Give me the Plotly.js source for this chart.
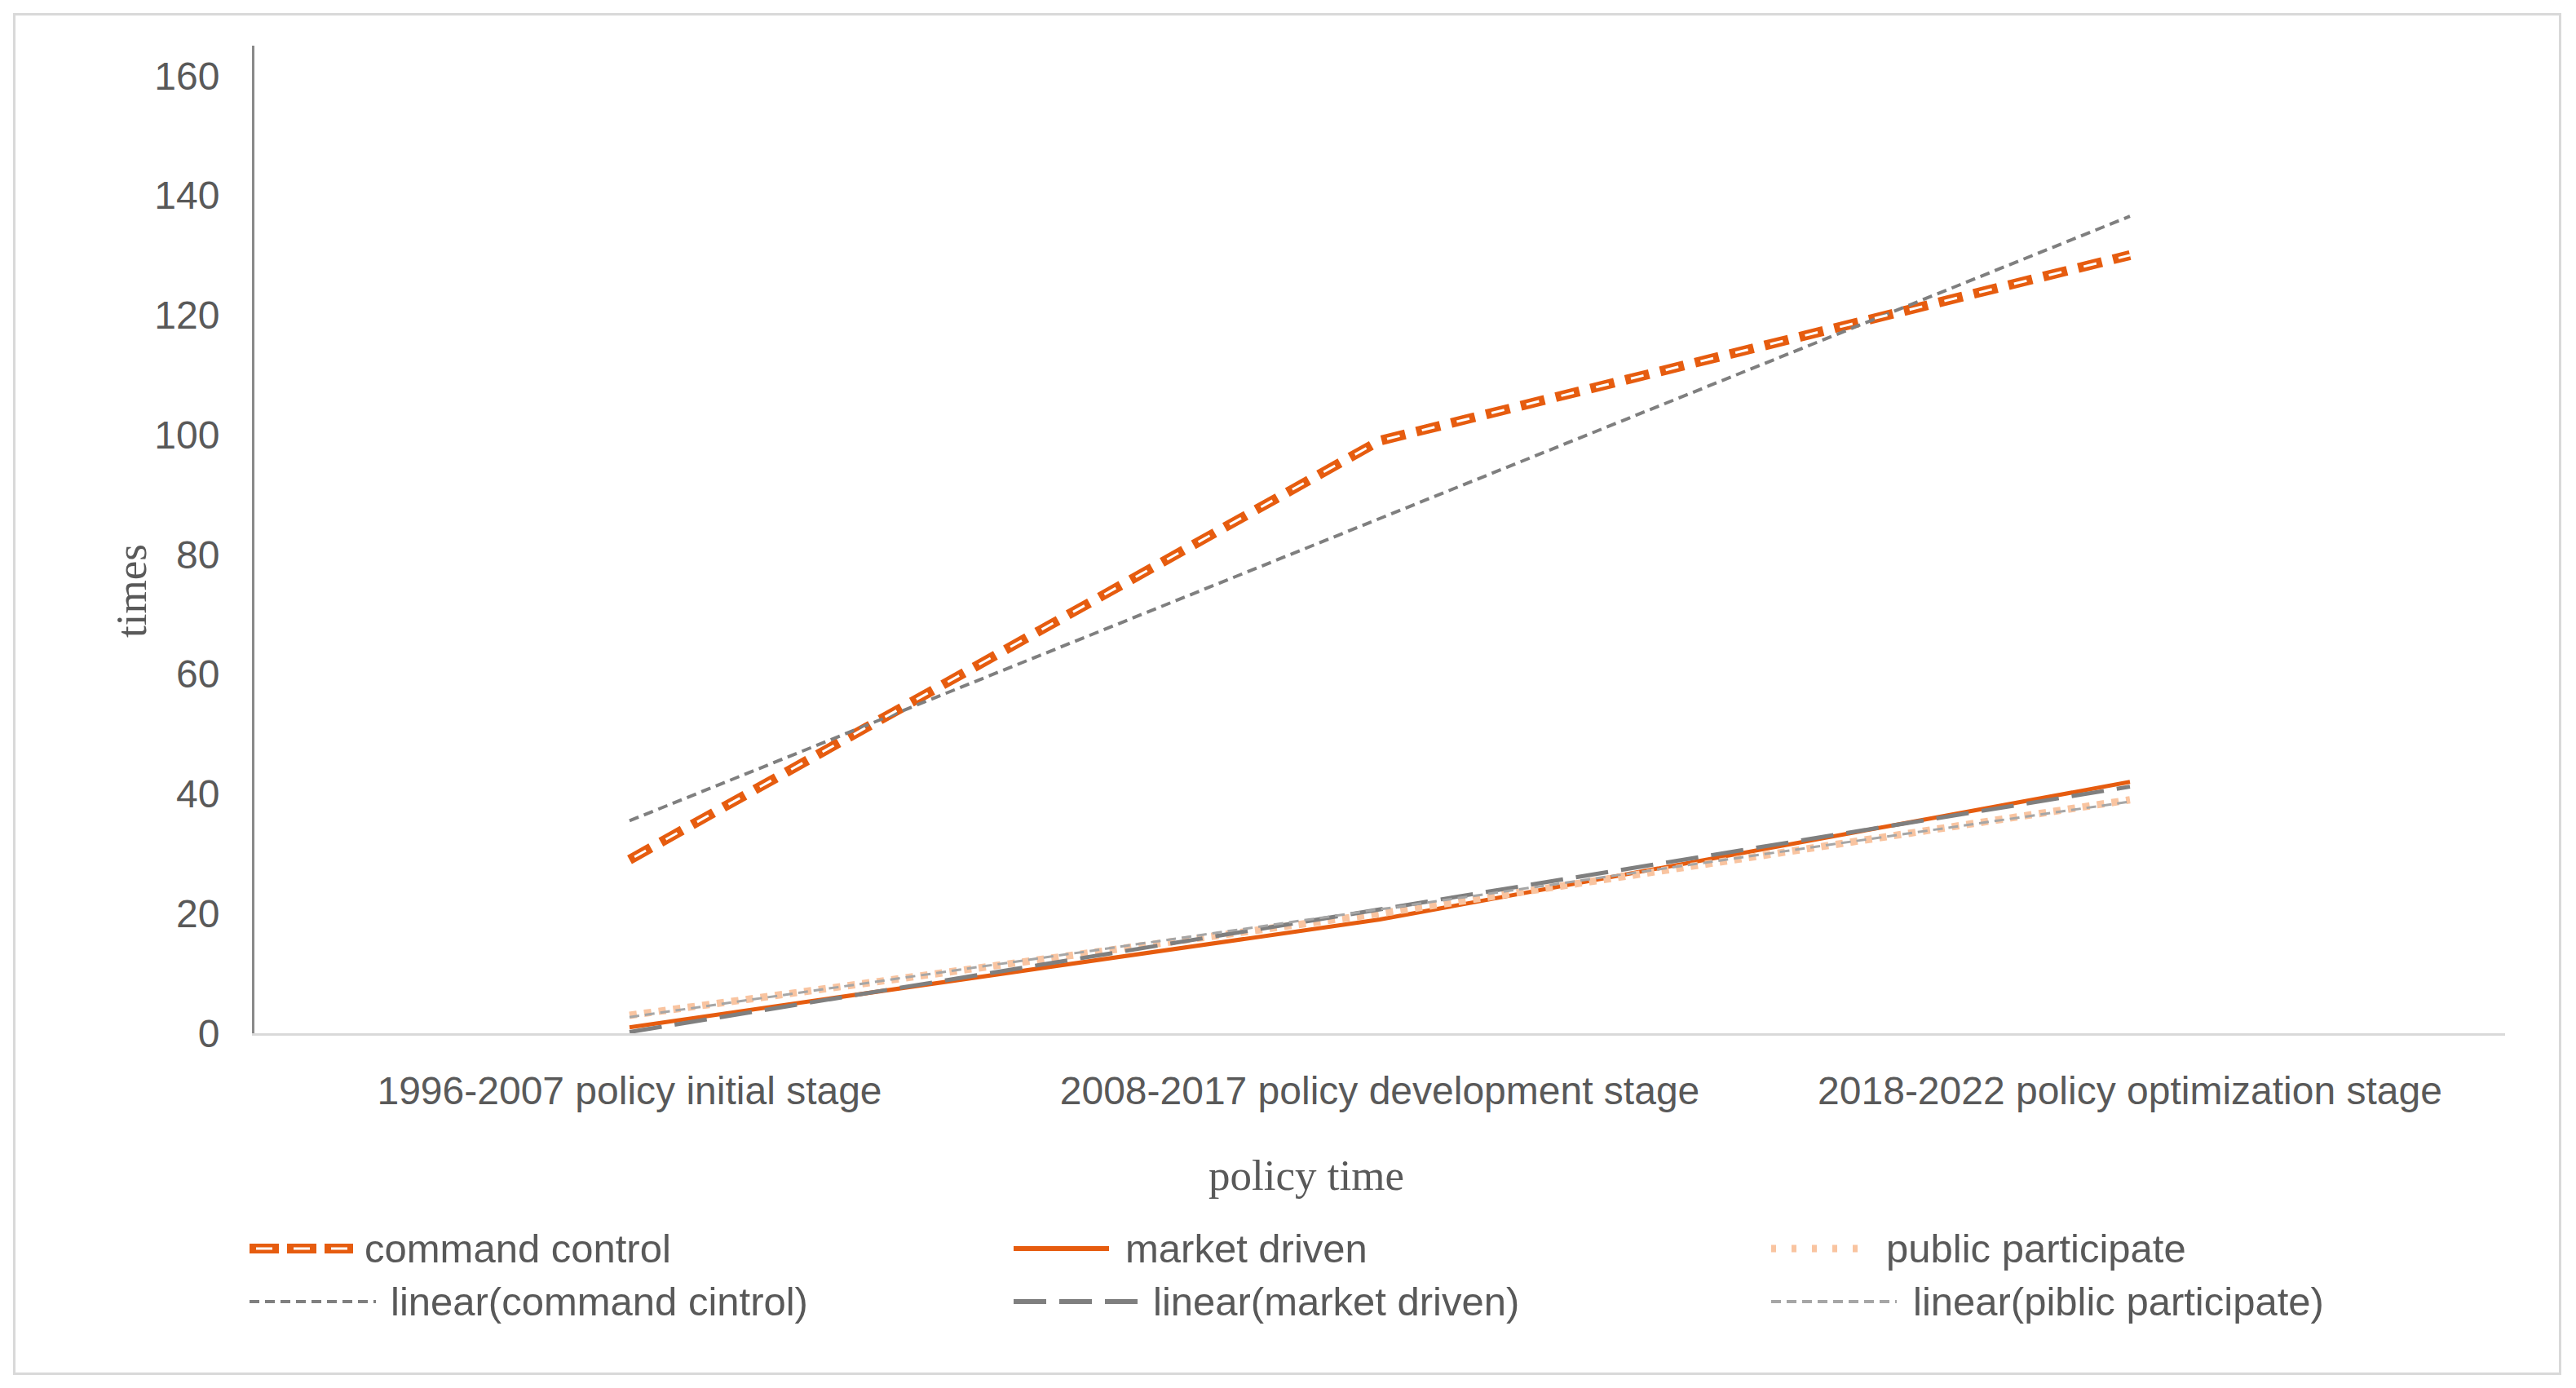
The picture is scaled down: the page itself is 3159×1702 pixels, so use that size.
<!DOCTYPE html>
<html>
<head>
<meta charset="utf-8">
<script src="https://cdn.plot.ly/plotly-3.0.1.min.js"></script>
<style>
  html, body { margin: 0; padding: 0; background: #ffffff; }
  #wrap { position: relative; width: 3159px; height: 1702px; }
  #chart { width: 3159px; height: 1702px; }
  #frame { position: absolute; left: 16px; top: 16px; width: 3119px; height: 1664px;
           border: 3px solid #d9d9d9; pointer-events: none; }
</style>
</head>
<body>
<div id="wrap"><div id="chart"></div><div id="frame"></div></div>
<script>
// ---- data ----
const categories = [
  '1996-2007 policy initial stage',
  '2008-2017 policy development stage',
  '2018-2022 policy optimization stage'
];
const commandControl    = [29, 99, 130];
const marketDriven      = [1, 19, 42];
const publicParticipate = [3, 20, 39];
const linearCommand     = [35.5, 86, 136.5];
const linearMarket      = [0.2, 20.7, 41.2];
const linearPublic      = [2.7, 20.7, 38.7];
const seriesNames = ['command control', 'market driven', 'public participate',
                     'linear(command cintrol)', 'linear(market driven)', 'linear(piblic participate)'];
const yTicks = [0, 20, 40, 60, 80, 100, 120, 140, 160];

const ORANGE = '#E65C0F';
const PEACH = '#F9C4A0';
const GRAY = '#7F7F7F';
const LGRAY = '#A6A6A6';
const TXT = '#595959';

const styles = [
  { color: ORANGE, width: 12, dash: '30px,14px' },
  { color: ORANGE, width: 5 },
  { color: PEACH, width: 9, dash: 'dot' },
  { color: GRAY, width: 4, dash: '12px,7px' },
  { color: GRAY, width: 5, dash: '40px,16px' },
  { color: LGRAY, width: 3, dash: '12px,7px' }
];
const innerStyle = { color: '#ffffff', width: 3, dash: '0px,7px,16px,21px' };

const values = [commandControl, marketDriven, publicParticipate, linearCommand, linearMarket, linearPublic];
const traces = values.map((v, i) => ({
  x: categories, y: v, name: seriesNames[i], mode: 'lines', showlegend: false,
  line: styles[i]
}));
traces.push({ x: categories, y: commandControl, name: 'command control inner', mode: 'lines',
  showlegend: false, hoverinfo: 'skip', line: innerStyle });

// ---- plot geometry (pixels) ----
const L = 312, R = 87, T = 56, B = 435, W = 3159, H = 1702;
const pw = W - L - R, ph = H - T - B;
const px = (x) => (x - L) / pw;
const py = (y) => (H - B - y) / ph;

// legend drawn as shapes + text (long symbols like the reference)
const legendItems = [
  { row: 1531, x0: 306, x1: 433, tx: 445, style: { color: ORANGE, width: 12, dash: '36px,10px' }, inner: { color: '#ffffff', width: 3, dash: '0px,8px,20px,18px' } },
  { row: 1531, x0: 1243, x1: 1360, tx: 1378, style: { color: ORANGE, width: 6 } },
  { row: 1531, x0: 2172, x1: 2289, tx: 2311, style: { color: PEACH, width: 9, dash: '6px,19px' } },
  { row: 1596, x0: 306, x1: 461, tx: 477, style: { color: GRAY, width: 4, dash: '12px,7px' } },
  { row: 1596, x0: 1243, x1: 1396, tx: 1412, style: { color: GRAY, width: 6, dash: '40px,16px' } },
  { row: 1596, x0: 2172, x1: 2326, tx: 2344, style: { color: LGRAY, width: 4, dash: '12px,7px' } }
];
const shapes = [];
const annotations = [];
legendItems.forEach((it, i) => {
  shapes.push({ type: 'line', xref: 'paper', yref: 'paper',
    x0: px(it.x0), x1: px(it.x1), y0: py(it.row), y1: py(it.row), line: it.style });
  if (it.inner) {
    shapes.push({ type: 'line', xref: 'paper', yref: 'paper',
      x0: px(it.x0), x1: px(it.x1), y0: py(it.row), y1: py(it.row), line: it.inner });
  }
  annotations.push({ text: seriesNames[i], xref: 'paper', yref: 'paper',
    x: px(it.tx), y: py(it.row), xanchor: 'left', yanchor: 'middle', showarrow: false,
    font: { size: 49, color: TXT } });
});
annotations.push(
  { text: 'policy time', xref: 'paper', yref: 'paper', x: px(1602), y: py(1441),
    xanchor: 'center', yanchor: 'middle', showarrow: false,
    font: { family: '"Liberation Serif", "Times New Roman", serif', size: 53, color: TXT } },
  { text: 'times', xref: 'paper', yref: 'paper', x: px(161), y: py(725),
    xanchor: 'center', yanchor: 'middle', showarrow: false, textangle: -90,
    font: { family: '"Liberation Serif", "Times New Roman", serif', size: 53, color: TXT } }
);

const layout = {
  width: W, height: H,
  paper_bgcolor: '#ffffff', plot_bgcolor: '#ffffff',
  margin: { l: L, r: R, t: T, b: B },
  font: { family: '"Liberation Sans", Arial, sans-serif', color: TXT, size: 48 },
  showlegend: false,
  xaxis: {
    type: 'category', range: [-0.5, 2.5],
    showgrid: false, zeroline: false,
    showline: true, linecolor: '#d9d9d9', linewidth: 3,
    ticks: '', ticklabelstandoff: 26,
    tickfont: { size: 48, color: TXT }
  },
  yaxis: {
    range: [0, 165], tickvals: yTicks,
    showgrid: false, zeroline: false,
    showline: true, linecolor: '#898989', linewidth: 3,
    ticks: '', ticklabelstandoff: 30,
    tickfont: { size: 48, color: TXT }
  },
  shapes: shapes,
  annotations: annotations
};

Plotly.newPlot('chart', traces, layout, { displayModeBar: false, staticPlot: true });
</script>
</body>
</html>
